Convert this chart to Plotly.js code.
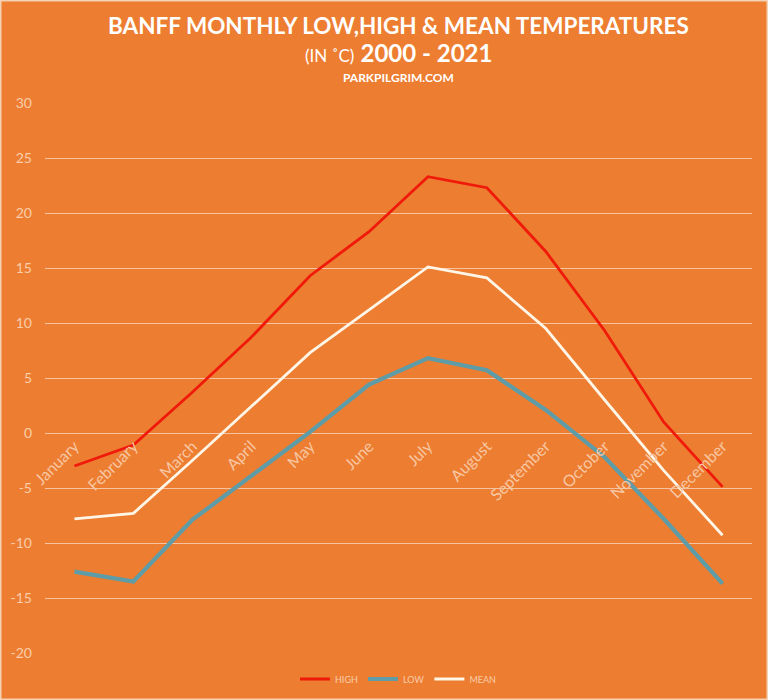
<!DOCTYPE html>
<html>
<head>
<meta charset="utf-8">
<script src="https://cdn.plot.ly/plotly-3.0.1.min.js"></script>
<style>html,body{margin:0;padding:0;background:#ED7D31;}#chart{width:768px;height:700px;}</style>
</head>
<body>
<div id="chart"></div>
<script>
const months = ["January","February","March","April","May","June","July","August","September","October","November","December"];
const high = [-3.0, -1.1, 3.7, 8.7, 14.3, 18.3, 23.3, 22.3, 16.5, 9.3, 1.0, -4.9];
const low  = [-12.6, -13.5, -7.9, -3.9, 0.1, 4.4, 6.8, 5.7, 2.1, -2.2, -7.8, -13.7];
const mean = [-7.8, -7.3, -2.5, 2.4, 7.3, 11.2, 15.1, 14.1, 9.5, 3.0, -3.4, -9.3];
const yTicks = [-20, -15, -10, -5, 0, 5, 10, 15, 20, 25, 30];

const traces = [
  {x: months, y: high, name: "HIGH", type: "scatter", mode: "lines", line: {color: "#F01A0A", width: 2.8}},
  {x: months, y: low, name: "LOW", type: "scatter", mode: "lines", line: {color: "#5E9CA8", width: 4.2}},
  {x: months, y: mean, name: "MEAN", type: "scatter", mode: "lines", line: {color: "#FFF6E8", width: 2.8}}
];

const txt = "#F9CDAA";
const layout = {
  width: 768, height: 700,
  paper_bgcolor: "#ED7D31", plot_bgcolor: "#ED7D31",
  margin: {l: 45, r: 16, t: 103, b: 47},
  font: {family: "Lato, sans-serif", color: txt},
  showlegend: true,
  legend: {orientation: "h", xref: "paper", yref: "container", x: 0.5, xanchor: "center",
           y: 0.03, yanchor: "middle",
           font: {size: 9, color: txt}, itemwidth: 30, bgcolor: "rgba(0,0,0,0)"},
  xaxis: {type: "category", range: [-0.5, 11.5], anchor: "free", position: 0.4,
          tickangle: -45, showgrid: false, zeroline: false, showline: false,
          ticks: "", tickfont: {size: 16, color: "#F7C7A3"}, fixedrange: true},
  yaxis: {range: [-20, 30], tickvals: yTicks, ticktext: yTicks.map(String),
          showgrid: true, gridcolor: "#F6C3A0", gridwidth: 1, zeroline: false,
          showline: false, ticks: "", ticklabelstandoff: 12,
          tickfont: {size: 14, color: txt}, fixedrange: true},
  annotations: [
    {xref: "paper", yref: "paper", x: 0.5, y: 1, xanchor: "center", yanchor: "middle",
     yshift: 78, showarrow: false,
     text: "<b>BANFF MONTHLY LOW,HIGH &amp; MEAN TEMPERATURES</b>",
     font: {family: "Lato, sans-serif", size: 22.5, color: "#FFFFFF"}},
    {xref: "paper", yref: "paper", x: 0.5, y: 1, xanchor: "center", yanchor: "middle",
     yshift: 51, showarrow: false,
     text: "<span style=\"font-size:17px\">(IN ˚C)</span> <b>2000 - 2021</b>",
     font: {family: "Lato, sans-serif", size: 24, color: "#FFFFFF"}},
    {xref: "paper", yref: "paper", x: 0.5, y: 1, xanchor: "center", yanchor: "middle",
     yshift: 26, showarrow: false,
     text: "<b>PARKPILGRIM.COM</b>",
     font: {family: "Lato, sans-serif", size: 12, color: "#FFFFFF"}}
  ],
  shapes: [
    {type: "rect", xref: "paper", yref: "paper", x0: -45/707, x1: 1 + 16/707, y0: -47/550, y1: 1 + 103/550,
     line: {color: "#F6D2B4", width: 3}, fillcolor: "rgba(0,0,0,0)"}
  ]
};

Plotly.newPlot("chart", traces, layout, {displayModeBar: false, staticPlot: true});
</script>
</body>
</html>
